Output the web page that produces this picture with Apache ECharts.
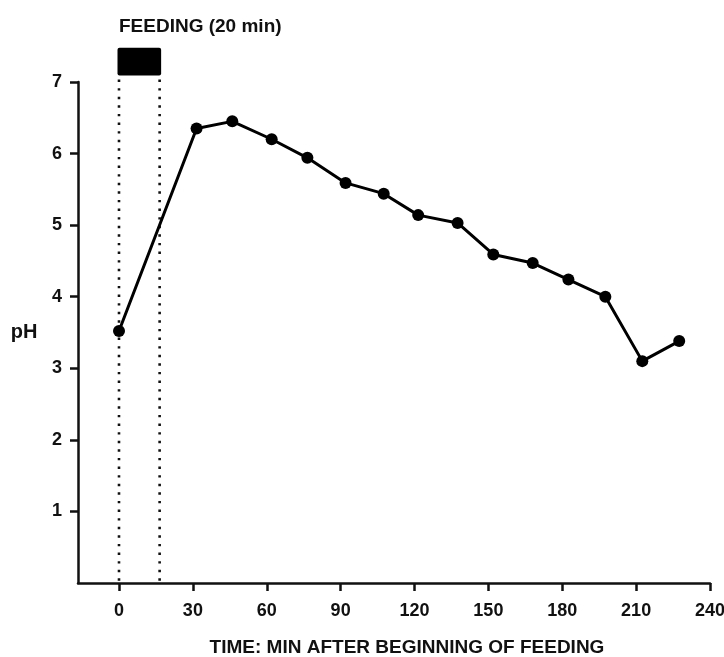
<!DOCTYPE html>
<html>
<head>
<meta charset="utf-8">
<script src="https://cdn.jsdelivr.net/npm/echarts@6/dist/echarts.min.js"></script>
<style>html,body{margin:0;padding:0;background:#fff;}#chart{width:724px;height:657px;}</style>
</head>
<body>
<div id="chart"></div>
<script>
// Data
const timeMin = [0, 31.5, 46, 62, 76.5, 92, 107.5, 121.5, 137.5, 152, 168, 182.5, 197.5, 212.5, 227.5];
const pH      = [3.52, 6.35, 6.45, 6.20, 5.94, 5.59, 5.44, 5.14, 5.03, 4.59, 4.47, 4.24, 4.00, 3.10, 3.38];
const xTicks = [0, 30, 60, 90, 120, 150, 180, 210, 240];
const yTicks = [1, 2, 3, 4, 5, 6, 7];
const feedingStart = 0;
const feedingEnd = 16.5;
const feedingBar = [7.09, 7.48]; // pH extent of the black bar above the plot
const titleText = 'FEEDING (20 min)';
const xName = 'TIME: MIN AFTER BEGINNING OF FEEDING';
const yName = 'pH';

const font = 'Liberation Sans, Arial, Helvetica, sans-serif';
const chart = echarts.init(document.getElementById('chart'));
chart.setOption({
  animation: false,
  backgroundColor: '#fff',
  title: {
    text: titleText, left: 119, top: 17, padding: 0,
    textStyle: { fontFamily: font, fontWeight: 'bold', fontSize: 19, color: '#111' }
  },
  grid: { left: 78, right: 14, top: 82, bottom: 74, containLabel: false, outerBoundsMode: 'none' },
  xAxis: {
    type: 'value', min: -16.65, max: 240,
    name: xName, nameLocation: 'middle', nameGap: 55,
    nameTextStyle: { fontFamily: font, fontWeight: 'bold', fontSize: 19, color: '#111', padding: [0, 0, 0, 26] },
    axisLine: { show: true, onZero: false, lineStyle: { color: '#111', width: 2.5 } },
    axisTick: { show: true, length: 8, lineStyle: { color: '#111', width: 2.5 }, customValues: xTicks },
    axisLabel: { fontFamily: font, fontWeight: 'bold', fontSize: 18, color: '#111', margin: 19, customValues: xTicks },
    splitLine: { show: false }
  },
  yAxis: {
    type: 'value', min: 0, max: 7,
    name: yName, nameLocation: 'middle', nameRotate: 0, nameGap: 54,
    nameTextStyle: { fontFamily: font, fontWeight: 'bold', fontSize: 20, color: '#111', align: 'center', padding: [6, 0, 0, 0] },
    axisLine: { show: true, onZero: false, lineStyle: { color: '#111', width: 2.5 } },
    axisTick: { show: true, length: 8, lineStyle: { color: '#111', width: 2.5 }, customValues: yTicks },
    axisLabel: { fontFamily: font, fontWeight: 'bold', fontSize: 18, color: '#111', margin: 16, customValues: yTicks },
    splitLine: { show: false }
  },
  series: [
    {
      type: 'custom',
      clip: false,
      silent: true,
      data: [[feedingStart, feedingEnd]],
      renderItem: function (params, api) {
        const s = api.value(0), e = api.value(1);
        const pTopL = api.coord([s, feedingBar[1]]);
        const pBotR = api.coord([e, feedingBar[0]]);
        const base0 = api.coord([s, 0]);
        const base1 = api.coord([e, 0]);
        const dash = { stroke: '#111', lineWidth: 2.6, lineDash: [2.4, 6.2] };
        return {
          type: 'group',
          children: [
            { type: 'rect', shape: { x: pTopL[0] - 1.5, y: pTopL[1], width: pBotR[0] - pTopL[0] + 3, height: pBotR[1] - pTopL[1], r: 2 }, style: { fill: '#000' } },
            { type: 'line', shape: { x1: base0[0], y1: pBotR[1] + 4, x2: base0[0], y2: base0[1] }, style: dash },
            { type: 'line', shape: { x1: base1[0], y1: pBotR[1] + 4, x2: base1[0], y2: base1[1] }, style: dash }
          ]
        };
      }
    },
    {
      type: 'line',
      data: timeMin.map((t, i) => [t, pH[i]]),
      symbol: 'circle', symbolSize: 12,
      lineStyle: { color: '#000', width: 3 },
      itemStyle: { color: '#000' },
      z: 5
    }
  ]
});
</script>
</body>
</html>
